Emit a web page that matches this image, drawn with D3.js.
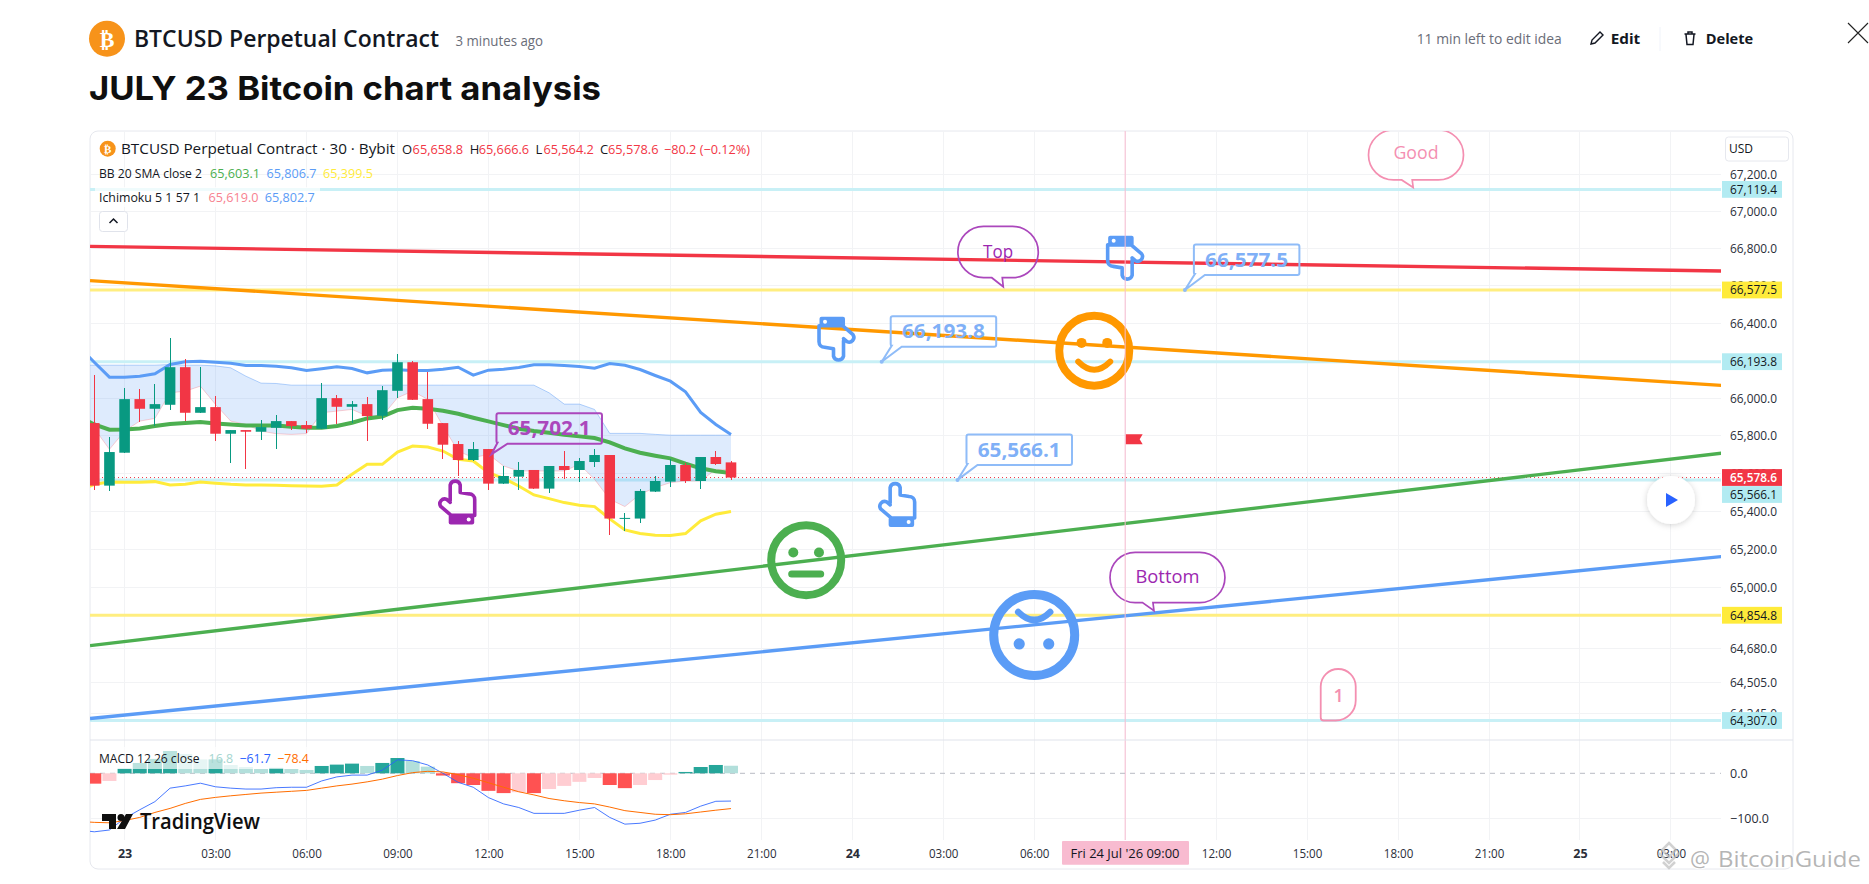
<!DOCTYPE html>
<html><head><meta charset="utf-8">
<script src="https://cdn.jsdelivr.net/npm/d3@7/dist/d3.min.js"></script>
<style>
html,body{margin:0;padding:0;background:#fff;overflow:hidden}
svg{display:block}
text{font-family:'Open Sans',Roboto,sans-serif}
</style></head><body>
<svg id="c" width="1869" height="884"></svg>
<script>
// ---------- data (hours from 23 Jul 00:00; bars every 30 min, first bar at -1 h) ----------
const firstBarHour = -1;
const candleOpen  = [65867,65535.8,65710,65994.4,65943.1,65964.3,66164.5,65921.8,65951.9,65810.6,65830,65821.2,65842.3,65877.6,65856.5,65837.1,65999.7,65953.7,65967.8,65906,66038.6,66191,65994.4,65867,65755.9,65671.3,65729.4,65546.4,65583.4,65618.6,65520.1,65639.6,65618.6,65660.7,65697.8,65360.4,65362.2,65504.3,65557,65644.9,65560.4,65687.2,65658.8];
const candleHigh  = [66125.4,65792.9,66054.6,66045.8,66075.8,66320.8,66210.6,66168,66010.3,65830,65830,65883,65909.5,65877.6,65877.6,66079.4,66015.7,65983.8,66005,66063.4,66233.7,66196.4,66139.7,65867,65771.8,65766.5,65731.2,65639.6,65660.7,65618.6,65639.6,65718.8,65683.6,65729.4,65697.8,65392,65518.3,65586.8,65674.8,65655.5,65687.2,65718.8,65666.6];
const candleLow   = [65513,65507.8,65710,65872.3,65851.2,65936,65877.6,65921.8,65771.8,65657.3,65623.8,65778.8,65731.2,65831.8,65814.1,65837.1,65860,65867,65771.8,65883,66001.4,65990.9,65835.3,65676.6,65586.8,65666,65513,65546.4,65513,65520.1,65497.2,65571,65557,65634.3,65276.3,65297.3,65339.3,65504.3,65528.9,65550,65518.3,65644.9,65564.2];
const candleClose = [65535.8,65713.5,65994.4,65943.1,65967.8,66164.5,65921.8,65951.9,65810.6,65830,65821.2,65845.9,65877.6,65851.2,65837.1,65999.7,65953.7,65967.8,65904.2,66042,66191,65990.9,65863.5,65752.4,65671.3,65729.4,65546.4,65586.8,65618.6,65520.1,65639.6,65618.6,65666,65697.8,65362.2,65365.6,65507.8,65560.4,65644.9,65560.4,65687.2,65650.2,65578.6];
// Indicators start one bar before the first candle (line runs off the left edge)
const bbUpper  = [66272.8,66191,66111.2,66111.2,66116.6,66129,66178.7,66192.9,66196.4,66191,66185.7,66173.4,66173.4,66169.8,66160.9,66146.7,66155.6,66166.2,66157.4,66134.3,66148.5,66150.2,66146.7,66146.7,66153.8,66164.5,66121.9,66148.5,66153.8,66162.7,66176.9,66176.9,66173.4,66168,66159.2,66184,66175.1,66152,66120.2,66090,66033.3,65923.6,65860,65806.7];
const bbMiddle = [65902.4,65860,65831.8,65833.5,65838.8,65851.2,65861.8,65867,65872.3,65865.3,65860,65854.7,65854.7,65854.7,65847.6,65842.3,65842.3,65851.2,65868.8,65891.9,65902.4,65936,65948.4,65943.1,65932.4,65916.6,65895.4,65875.9,65856.5,65837.1,65824.7,65815.9,65805.3,65796.5,65787.6,65764.7,65733,65710,65694.2,65680.1,65652,65627.3,65611.5,65603.1];
const bbLower  = [65507.8,65542.9,65555.2,65553.5,65553.5,65557,65539.4,65542.9,65555.2,65548.2,65542.9,65539.4,65539.4,65537.6,65535.8,65534.1,65532.3,65539.4,65595.6,65648.5,65648.5,65713.5,65745.3,65740,65718.8,65674.8,65666,65604.5,65574.6,65534.1,65486.6,65467.3,65446.4,65432.2,65425.3,65360.4,65302.6,65283.3,65274.5,65272.8,65283.3,65349.8,65384.9,65399.5];
const cloudTop = [66175.1,66175.1,66175.1,66175.1,66175.1,66175.1,66178.7,66175.1,66175.1,66171.5,66160.9,66116.6,66079.4,66077.6,66068.7,66068.7,66068.7,66068.7,66068.7,66068.7,66068.7,66068.7,66068.7,66068.7,66068.7,66068.7,66068.7,66068.7,66068.7,66068.7,66068.7,66028,65967.8,65967.8,65939.5,65812.4,65812.4,65812.4,65807.1,65802.7,65802.7,65802.7,65802.7,65802.7];
const cloudBottom = [65967.8,65838.8,65727.7,65824.7,65877.6,65891.9,66028,66036.8,66063.4,65966.1,65877.6,65860,65824.7,65810.6,65807.1,65810.6,65921.8,65930.7,65939.5,65904.2,65904.2,66001.4,66036.8,65992.6,65851.2,65718.8,65683.6,65701.3,65639.6,65613.3,65613.3,65613.3,65613.3,65648.5,65569.3,65463.9,65425.3,65490.2,65525.4,65551.7,65560.4,65560.4,65622,65619];
const macdHist = [-23,-17,10.4,23,32,49.6,43,31,31,18.5,14,9.6,12,9.6,7.4,16.3,19.3,21.5,16.3,23,34,27.4,14.8,-5,-22,-26,-39,-44,-42,-44,-35,-28,-19,-10.4,-26,-33,-26,-15,-3,3,14,18.5,16.8];
const macdLine = [-126,-130,-126,-100,-81,-63,-33,-28,-22,-30,-33,-35,-35,-32,-31,-31,-17,-8,-4,-4,7,30,28,18.5,0,-20,-31,-54,-68,-76,-89,-89,-89,-82,-76,-98,-113,-111,-104,-91,-87,-73,-62.2,-61.7];
const macdSignal = [-107,-109,-110,-105,-98,-87,-78,-67,-58,-53.5,-50,-47,-44,-42,-40,-38,-33,-28,-24,-19,-13,-5,1.5,4.4,3,-3,-11,-21,-31,-41,-48,-56,-61,-65,-68,-75,-83,-87,-91,-92,-90,-86,-82,-78.4];

const priceTicks = [67200,67000,66800,66600,66400,66000,65800,65600,65400,65200,65000,64680,64505,64345];
const macdTicks = [0,-100];
const timeTickHours = [0,3,6,9,12,15,18,21,24,27,30,36,39,42,45,48,51];
const timeTickLabels = ['23','03:00','06:00','09:00','12:00','15:00','18:00','21:00','24','03:00','06:00','12:00','15:00','18:00','21:00','25','03:00'];
const boldTimeLabels = ['23','24','25'];
const gridHours = [0,3,6,9,12,15,18,21,24,27,30,33,36,39,42,45,48,51];

const levelPrices = [67119.4,66577.5,66193.8,65566.1,64854.8,64307];
const levelKinds  = ['c','y','c','c','y','c'];
const lastPrice = 65578.6;
const trendHours = [-1.14,52.7];
const trendRed    = [66811.8,66679.1];
const trendOrange = [66627.7,66067.3];
const trendGreen  = [64696.3,65708.5];
const trendBlue   = [64317.5,65162.7];
const crossHour = 33;

const calloutTexts  = ['65,702.1','65,566.1','66,193.8','66,577.5'];
const calloutHours  = [12.1,27.47,24.97,34.97];
const calloutPrices = [65702.1,65566.1,66193.8,66577.5];
const bubbleTexts   = ['Top','Bottom','Good'];
const bubbleHours   = [28.98,33.95,42.5];
const bubblePrices  = [66595,64879,67130];
const faceKinds  = ['smile','flat','flip'];
const faceHours  = [31.98,22.48,30];
const facePrices = [66252.5,65142.7,64751.9];
const handKinds  = ['up','up','down','down'];
const handHours  = [10.97,25.48,23.48,33];
const handPrices = [65452.6,65439.3,66311.1,66744.6];

// ---------- scales ----------
const L=90,R=1721,T=131,PB=740,B=840;
const x = d3.scaleLinear().domain([0,51]).range([124.6,124.6+51*30.32]);
const y = d3.scaleLog().domain([64307,67200]).range([720.5,174.5]);
const ym = d3.scaleLinear().domain([0,-100]).range([773.3,818.3]);
const barHour = i=>firstBarHour+i*0.5;
const lineHour = i=>firstBarHour-0.5+i*0.5;
const fmt = d3.format(',.1f');
const fmtM = v=>fmt(v).replace('-','\u2212');

const RED='#f23645',GRN='#089981',BLU='#5b9cf6',YEL='#ffeb3b',LGRN='#4caf50',PUR='#9c27b0',ORG='#ff9800',PINK='#f48fb1';
const svg = d3.select('#c');
const txt=(g,px,py,s,o={})=>{const t=g.append('text').attr('x',px).attr('y',py).text(s)
  .attr('font-size',o.size||13).attr('fill',o.fill||'#131722').attr('text-anchor',o.anchor||'start');
  if(o.weight)t.attr('font-weight',o.weight);
  if(o.family)t.style('font-family',o.family);
  if(o.w)t.attr('textLength',o.w).attr('lengthAdjust','spacingAndGlyphs');
  return t;};

svg.append('defs').html(`<clipPath id="pane"><rect x="${L}" y="${T}" width="${R-L}" height="${PB-T}"/></clipPath>
<clipPath id="mp"><rect x="${L}" y="${PB}" width="${R-L}" height="${B-PB}"/></clipPath>
<filter id="sh" x="-50%" y="-50%" width="200%" height="200%"><feDropShadow dx="0" dy="1" stdDeviation="3" flood-color="#000" flood-opacity=".18"/></filter>`);

// ---------- header ----------
const head=svg.append('g');
head.append('circle').attr('cx',107).attr('cy',38.7).attr('r',18).attr('fill','#f7931a');
txt(head,107,46.5,'\u20bf',{size:22,fill:'#fff',anchor:'middle',weight:700,family:'DejaVu Sans'});
txt(head,134,47,'BTCUSD Perpetual Contract',{size:23,weight:600,w:305,fill:'#131722'});
txt(head,455.5,45.5,'3 minutes ago',{size:14,fill:'#6a6d78',w:87.5});
txt(head,89,100,'JULY 23 Bitcoin chart analysis',{size:33,weight:700,w:512,fill:'#0f0f0f',family:'Inter'});
txt(head,1416.7,44,'11 min left to edit idea',{size:14,fill:'#6a6d78',w:145});
head.append('path').attr('d','M1591 44l1-4 8-8 3 3-8 8z').attr('fill','none').attr('stroke','#131722').attr('stroke-width',1.4);
txt(head,1610.7,44,'Edit',{size:15,weight:700,w:29.5});
head.append('line').attr('x1',1660).attr('x2',1660).attr('y1',27).attr('y2',51).attr('stroke','#f0f3fa');
head.append('path').attr('d','M1684.5 34h11M1688 34v-2h4v2M1686 34.5l1 10h6l1-10').attr('fill','none').attr('stroke','#131722').attr('stroke-width',1.5);
txt(head,1705.7,44,'Delete',{size:15,weight:700,w:47.5});
head.append('path').attr('d','M1848 23l20 20M1868 23l-20 20').attr('stroke','#222').attr('stroke-width',1.1);

// ---------- frame ----------
svg.append('rect').attr('x',L).attr('y',T).attr('width',1793-L).attr('height',869-T).attr('rx',8).attr('fill','#fff').attr('stroke','#e6e8ee').attr('stroke-width',1);

// ---------- grid ----------
const grid=svg.append('g').attr('stroke','#f2f3f5').attr('stroke-width',1).attr('shape-rendering','crispEdges');
grid.selectAll('.v').data(gridHours).join('line').attr('x1',d=>x(d)).attr('x2',d=>x(d)).attr('y1',T).attr('y2',B);
grid.selectAll('.h').data(priceTicks).join('line').attr('x1',L).attr('x2',R).attr('y1',d=>y(d)).attr('y2',d=>y(d));
grid.append('line').attr('x1',L).attr('x2',R).attr('y1',ym(-100)).attr('y2',ym(-100));

// ---------- main pane ----------
const pane=svg.append('g').attr('clip-path','url(#pane)');
// horizontal levels
const lvlCol={c:'#c8f0f6',y:'#ffee80'};
pane.selectAll('.lvl').data(levelPrices).join('line').attr('x1',L).attr('x2',R)
  .attr('y1',d=>y(d)).attr('y2',d=>y(d)).attr('stroke-width',3).attr('stroke',(d,i)=>lvlCol[levelKinds[i]]);
// cross line
svg.append('line').attr('x1',x(crossHour)).attr('x2',x(crossHour)).attr('y1',T).attr('y2',B).attr('stroke','#f8bbd0').attr('stroke-width',1);
// cloud
const idx=d3.range(cloudTop.length);
pane.append('path').datum(idx).attr('fill',BLU).attr('fill-opacity',.2)
  .attr('d',d3.area().x(i=>x(lineHour(i))).y0(i=>y(cloudTop[i])).y1(i=>y(cloudBottom[i])));
const ln=(arr,sc,h=lineHour)=>d3.line().x((d,i)=>x(h(i))).y(d=>sc(d))(arr);
pane.append('path').attr('d',ln(cloudTop,y)).attr('fill','none').attr('stroke',BLU).attr('stroke-opacity',.45).attr('stroke-width',1);
pane.append('path').attr('d',ln(cloudBottom,y)).attr('fill','none').attr('stroke','#f7525f').attr('stroke-opacity',.28).attr('stroke-width',1);
// bands
pane.append('path').attr('d',ln(bbUpper,y)).attr('fill','none').attr('stroke',BLU).attr('stroke-width',3);
pane.append('path').attr('d',ln(bbLower,y)).attr('fill','none').attr('stroke','#ffeb3b').attr('stroke-width',3);
pane.append('path').attr('d',ln(bbMiddle,y)).attr('fill','none').attr('stroke',LGRN).attr('stroke-width',4);
// last price dotted
pane.append('line').attr('x1',L).attr('x2',R).attr('y1',y(lastPrice)).attr('y2',y(lastPrice)).attr('stroke',RED).attr('stroke-width',1).attr('stroke-dasharray','1 3');
// candles
const bars=pane.selectAll('.bar').data(candleOpen).join('g');
const col=(i)=>candleClose[i]>=candleOpen[i]?GRN:RED;
bars.append('line').attr('x1',(d,i)=>x(barHour(i))).attr('x2',(d,i)=>x(barHour(i))).attr('y1',(d,i)=>y(candleHigh[i])).attr('y2',(d,i)=>y(candleLow[i])).attr('stroke',(d,i)=>col(i)).attr('stroke-width',1).attr('shape-rendering','crispEdges');
bars.append('rect').attr('x',(d,i)=>x(barHour(i))-5.3).attr('width',10.6)
  .attr('y',(d,i)=>y(Math.max(candleOpen[i],candleClose[i])))
  .attr('height',(d,i)=>Math.max(1,Math.abs(y(candleOpen[i])-y(candleClose[i])))).attr('fill',(d,i)=>col(i));
// trend lines
[[trendRed,RED,3.4],[trendOrange,ORG,3.4],[trendGreen,LGRN,3.4],[trendBlue,BLU,3.4]].forEach(([a,c,w])=>{
  pane.append('line').attr('x1',x(trendHours[0])).attr('x2',x(trendHours[1])).attr('y1',y(a[0])).attr('y2',y(a[1])).attr('stroke',c).attr('stroke-width',w);
});

// ---------- drawings ----------
const ann=pane.append('g');
// callouts with value
calloutTexts.forEach((s,i)=>{
  const tx=x(calloutHours[i]),ty=y(calloutPrices[i]);
  const isP=i===0, c=isP?'#ab47bc':'#8fbcf8', tc=isP?'#ab47bc':'#7fb0f7';
  const l=tx+(isP?5:9),r=l+105.5,t=ty-(isP?41:45.5),b=t+30.5;
  ann.append('path').attr('d',`M${l+2} ${t}H${r-2}Q${r} ${t} ${r} ${t+2}V${b-2}Q${r} ${b} ${r-2} ${b}H${l+11}L${tx} ${ty}L${l+1} ${b-1}Q${l} ${b-1} ${l} ${b-3}V${t+2}Q${l} ${t} ${l+2} ${t}Z`)
    .attr('fill','none').attr('stroke',c).attr('stroke-width',2);
  if(!isP) ann.append('circle').attr('cx',tx).attr('cy',ty).attr('r',2).attr('fill',c);
  txt(ann,(l+r)/2,(t+b)/2+7,s,{size:19,weight:700,fill:tc,anchor:'middle',w:83});
});
// speech bubbles
const bubbleSpan=[[-45.4,35,-60.3,-9],[-44,71,-58.3,-8],[-44.7,50.3,-57.5,-7.5]];
const bubbleCol=[['#ab47bc',PUR],['#ab47bc',PUR],['#f48fb1','#f48fb1']];
const bubbleW=[30,64,45];
bubbleTexts.forEach((s,i)=>{
  const tx=x(bubbleHours[i]),ty=y(bubblePrices[i]),[a,b,c,d]=bubbleSpan[i];
  const l=tx+a,r=tx+b,t=ty+c,bt=ty+d,q=(bt-t)/2;
  ann.append('path').attr('d',`M${l+q} ${t}H${r-q}A${q} ${q} 0 0 1 ${r-q} ${bt}H${tx-1}L${tx} ${ty}L${tx-11.5} ${bt}H${l+q}A${q} ${q} 0 0 1 ${l+q} ${t}Z`)
    .attr('fill','none').attr('stroke',bubbleCol[i][0]).attr('stroke-width',1.7);
  txt(ann,(l+r)/2,(t+bt)/2+(i===2?4.5:6),s,{size:18,fill:bubbleCol[i][1],anchor:'middle',w:bubbleW[i]});
});
// "1" note
{
  const tx=x(39.45),ty=y(64307);
  ann.append('path').attr('d',`M${tx+3} ${ty}Q${tx} ${ty} ${tx} ${ty-3}V${ty-34}A17.5 17.5 0 0 1 ${tx+35} ${ty-34}V${ty-20}A20 20 0 0 1 ${tx+15} ${ty}Z`)
    .attr('fill','none').attr('stroke',PINK).attr('stroke-width',1.8);
  txt(ann,tx+18,ty-19,'1',{size:18,weight:600,fill:PINK,anchor:'middle'});
}
// faces
faceKinds.forEach((k,i)=>{
  const g=ann.append('g').attr('transform',`translate(${x(faceHours[i])},${y(facePrices[i])})`);
  const c=k==='smile'?ORG:k==='flat'?LGRN:BLU;
  const ro=k==='flip'?45:39, sw=k==='flip'?9:8;
  g.append('circle').attr('r',ro-sw/2).attr('fill','none').attr('stroke',c).attr('stroke-width',sw);
  if(k==='smile'){
    [-12.7,13].forEach(d=>g.append('circle').attr('cx',d).attr('cy',-7.8).attr('r',5).attr('fill',c));
    g.append('path').attr('d','M-16 11Q0 27 16 11').attr('fill','none').attr('stroke',c).attr('stroke-width',6).attr('stroke-linecap','round');
  } else if(k==='flat'){
    [-12.9,12.8].forEach(d=>g.append('circle').attr('cx',d).attr('cy',-7.8).attr('r',5).attr('fill',c));
    g.append('line').attr('x1',-14.5).attr('x2',14.5).attr('y1',13.8).attr('y2',13.8).attr('stroke',c).attr('stroke-width',7).attr('stroke-linecap','round');
  } else {
    [-15,14.5].forEach(d=>g.append('circle').attr('cx',d).attr('cy',9).attr('r',5.6).attr('fill',c));
    g.append('path').attr('d','M-16 -23Q0 -7 16 -23').attr('fill','none').attr('stroke',c).attr('stroke-width',6.5).attr('stroke-linecap','round');
  }
});
// hands
handKinds.forEach((k,i)=>{
  const c=i===0?PUR:BLU;
  const g=ann.append('g').attr('transform',`translate(${x(handHours[i])},${y(handPrices[i])})${k==='down'?' rotate(180)':''} translate(-20,-23)`);
  g.append('path').attr('d','M13 22V6.5A5.2 5.2 0 0 1 23 6.5V14L32 15.5A5.5 5.5 0 0 1 37.5 21V37H14L3.5 28A4.8 4.8 0 0 1 9.5 21L13 24')
    .attr('fill','none').attr('stroke',c).attr('stroke-width',3.6).attr('stroke-linejoin','round').attr('stroke-linecap','round');
  g.append('rect').attr('x',11.5).attr('y',36).attr('width',25.5).attr('height',10).attr('rx',2).attr('fill',c);
  g.append('circle').attr('cx',31.5).attr('cy',41).attr('r',2).attr('fill','#fff');
});
// flag
{
  const fx=x(crossHour)+0.5,fy=y(65755);
  ann.append('path').attr('d',`M${fx} ${fy-10}H${fx+17}L${fx+14} ${fy-5}L${fx+17} ${fy}H${fx}Z`).attr('fill',RED);
}

// ---------- legend ----------
const lg=svg.append('g');
lg.append('rect').attr('x',95).attr('y',187).attr('width',225).attr('height',20).attr('fill','#fff').attr('fill-opacity',.7);
lg.append('circle').attr('cx',107.7).attr('cy',148.7).attr('r',8).attr('fill','#f7931a');
txt(lg,107.7,153,'\u20bf',{size:11,fill:'#fff',anchor:'middle',weight:700,family:'DejaVu Sans'});
txt(lg,121,154,'BTCUSD Perpetual Contract \u00b7 30 \u00b7 Bybit',{size:14,w:274});
const ohlcLetters=['O','H','L','C'], ohlcVals=[65658.8,65666.6,65564.2,65578.6];
[402,469.7,535.4,600].forEach((px,i)=>txt(lg,px,154,ohlcLetters[i],{size:13}));
[412.6,478.7,543.4,608].forEach((px,i)=>txt(lg,px,154,fmt(ohlcVals[i]),{size:13,fill:RED,w:50.5}));
txt(lg,664,154,'\u221280.2 (\u22120.12%)',{size:13,fill:RED,w:86});
txt(lg,99,177.5,'BB 20 SMA close 2',{size:12.5,w:103});
txt(lg,210,177.5,fmt(65603.1),{size:13,fill:LGRN,w:50});
txt(lg,266.6,177.5,fmt(65806.7),{size:13,fill:BLU,w:50});
txt(lg,323,177.5,fmt(65399.5),{size:13,fill:YEL,w:50});
txt(lg,99,202,'Ichimoku 5 1 57 1',{size:12.5,w:101});
txt(lg,208.6,202,fmt(65619),{size:13,fill:'#f7828f',w:50});
txt(lg,264.8,202,fmt(65802.7),{size:13,fill:BLU,w:50});
lg.append('rect').attr('x',99.5).attr('y',211.5).attr('width',28).attr('height',20).attr('rx',3).attr('fill','#fff').attr('stroke','#e0e3eb');
lg.append('path').attr('d','M109.5 223l4-4 4 4').attr('fill','none').attr('stroke','#131722').attr('stroke-width',1.5);

// ---------- MACD pane ----------
svg.append('line').attr('x1',L).attr('x2',1793).attr('y1',PB).attr('y2',PB).attr('stroke','#e0e3eb').attr('stroke-width',1);
const mp=svg.append('g').attr('clip-path','url(#mp)');
mp.append('line').attr('x1',L).attr('x2',R).attr('y1',ym(0)).attr('y2',ym(0)).attr('stroke','#b8bbc4').attr('stroke-dasharray','5 5');
const histCol=(v,i)=>{const p=i>0?macdHist[i-1]:v; return v>=0?(v>=p?'#26a69a':'#b2dfdb'):(v<=p?'#ff5252':'#ffcdd2');};
mp.selectAll('.h').data(macdHist).join('rect')
  .attr('x',(d,i)=>x(barHour(i))-7).attr('width',14)
  .attr('y',d=>Math.min(ym(0),ym(d))).attr('height',d=>Math.abs(ym(d)-ym(0))).attr('fill',histCol);
mp.append('path').attr('d',ln(macdLine,ym)).attr('fill','none').attr('stroke','#2962ff').attr('stroke-opacity',.85).attr('stroke-width',1);
mp.append('path').attr('d',ln(macdSignal,ym)).attr('fill','none').attr('stroke','#ff6d00').attr('stroke-width',1);
const ml=svg.append('g');
ml.append('rect').attr('x',95).attr('y',747).attr('width',218).attr('height',22).attr('fill','#fff').attr('fill-opacity',.68);
txt(ml,99,762.5,'MACD 12 26 close',{size:12.5,w:100.5});
txt(ml,208.6,762.5,'16.8',{size:13,fill:'#a5d6d0',w:24.5});
txt(ml,239.4,762.5,'\u221261.7',{size:13,fill:'#2962ff',w:31.5});
txt(ml,277.3,762.5,'\u221278.4',{size:13,fill:'#ff6d00',w:31.5});
// TradingView mark
const tv=svg.append('g').attr('fill','#0f0f0f');
tv.append('path').attr('d','M102 814H116V829H109V821H102Z');
tv.append('circle').attr('cx',121).attr('cy',817.5).attr('r',3.5);
tv.append('path').attr('d','M126 814H133L125 829H117Z');
txt(tv,140,829,'TradingView',{size:21,weight:600,fill:'#0f0f0f',w:120});

// ---------- axes ----------
const ax=svg.append('g').attr('transform',`translate(${R},0)`)
  .call(d3.axisRight(y).tickValues(priceTicks).tickFormat(fmt).tickSize(0).tickPadding(9));
ax.select('.domain').remove();
ax.selectAll('text').attr('font-size',12.5).attr('fill','#2a2e39').style('font-family',"'Open Sans',Roboto,sans-serif").attr('textLength',47).attr('lengthAdjust','spacingAndGlyphs');
const amx=svg.append('g').attr('transform',`translate(${R},0)`)
  .call(d3.axisRight(ym).tickValues(macdTicks).tickFormat(d=>fmtM(d)).tickSize(0).tickPadding(9));
amx.select('.domain').remove();
amx.selectAll('text').attr('font-size',12.5).attr('fill','#2a2e39').style('font-family',"'Open Sans',Roboto,sans-serif");
const at=svg.append('g').attr('transform',`translate(0,${B})`)
  .call(d3.axisBottom(x).tickValues(timeTickHours).tickFormat((d,i)=>timeTickLabels[i]).tickSize(0).tickPadding(9));
at.select('.domain').remove();
at.selectAll('text').attr('font-size',12.5).attr('fill','#2a2e39').style('font-family',"'Open Sans',Roboto,sans-serif")
  .attr('font-weight',function(){return boldTimeLabels.includes(this.textContent)?700:400;})
  .each(function(){ if(this.textContent.length===5) d3.select(this).attr('textLength',29.5).attr('lengthAdjust','spacingAndGlyphs'); });
// crosshair time label
svg.append('rect').attr('x',1062).attr('y',B+1).attr('width',127).attr('height',23.7).attr('rx',1).attr('fill','#f8bbd0');
txt(svg,1070.5,B+18,"Fri 24 Jul '26   09:00",{size:12.5,w:109});
// price labels
const boxes=[...levelPrices.map((p,i)=>({p,bg:levelKinds[i]==='c'?'#b2ebf2':'#ffeb3b',fg:'#131722',cy:y(p)})),{p:lastPrice,bg:RED,fg:'#fff',cy:477.5}];
boxes.filter(b=>b.p===65566.1).forEach(b=>b.cy=494.5);
const bx=svg.append('g');
boxes.forEach(b=>{
  bx.append('rect').attr('x',1722).attr('y',b.cy-8.4).attr('width',60).attr('height',16.8).attr('fill',b.bg);
  txt(bx,1730,b.cy+4.5,fmt(b.p),{size:12.5,fill:b.fg,w:47,weight:b.bg===RED?600:400});
});
bx.append('rect').attr('x',1725.5).attr('y',137).attr('width',63).attr('height',24).attr('rx',3).attr('fill','#fff').attr('stroke','#e6e8ee');
txt(bx,1729,153,'USD',{size:12,fill:'#131722'});
// play button
svg.append('circle').attr('cx',1671).attr('cy',500).attr('r',24).attr('fill','#fff').attr('filter','url(#sh)');
svg.append('path').attr('d','M1666 493L1678 500L1666 507Z').attr('fill','#2962ff');
// watermark
const wm=svg.append('g');
wm.append('path').attr('d','M1669 843l7 7-7 7-7-7zM1659 853l10 10 10-10M1663 862l6 6 6-6').attr('fill','none').attr('stroke','#bdbdbd').attr('stroke-width',2.5).attr('stroke-opacity',.7);
txt(wm,1690,866.5,'@',{size:21,fill:'#a8a8a8',w:20}).attr('stroke','#fff').attr('stroke-width',2).attr('paint-order','stroke').attr('fill-opacity',.85);
txt(wm,1718,866.5,'BitcoinGuide',{size:21,fill:'#a8a8a8',w:143}).attr('stroke','#fff').attr('stroke-width',2).attr('paint-order','stroke').attr('fill-opacity',.85);
</script>
</body></html>
